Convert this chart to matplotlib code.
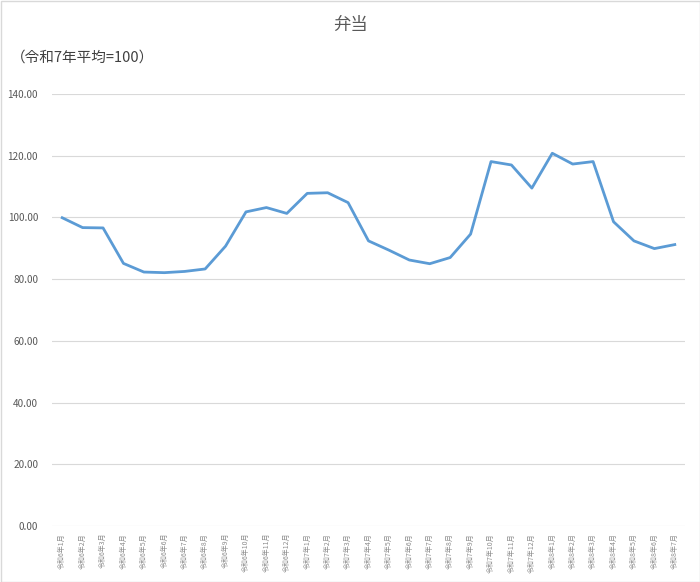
import matplotlib
matplotlib.use("Agg")
import matplotlib.pyplot as plt
from matplotlib.patches import Rectangle

plt.rcParams['font.family'] = ['Noto Sans CJK JP', 'DejaVu Sans']

labels = ([f"令和6年{m}月" for m in range(1, 13)]
          + [f"令和7年{m}月" for m in range(1, 13)]
          + [f"令和8年{m}月" for m in range(1, 8)])
values = [99.9, 96.7, 96.6, 85.1, 82.3, 82.1, 82.5, 83.3, 90.7, 101.8, 103.2, 101.3,
          107.8, 108.0, 104.8, 92.4, 89.4, 86.2, 85.0, 87.0, 94.6, 118.1, 117.0, 109.5,
          120.8, 117.3, 118.1, 98.6, 92.4, 89.9, 91.2]
yticks = [0, 20, 40, 60, 80, 100, 120, 140]
title = "弁当"
unit_note = "（令和7年平均=100）"

W, H = 700, 582
fig = plt.figure(figsize=(W / 100, H / 100), dpi=100)
ax = fig.add_axes([52 / W, (H - 526) / H, (685 - 52) / W, (526 - 94) / H])

x = list(range(len(values)))
ax.plot(x, values, color='#5B9BD5', linewidth=2.0, solid_joinstyle='round', zorder=3)

ax.set_xlim(-0.5, len(values) - 0.5)
ax.set_ylim(0, 140)
ax.set_yticks(yticks)
ax.set_yticklabels([f"{v:.2f}" for v in yticks], fontsize=7.2, color='#595959')
ax.set_xticks(x)
ax.set_xticklabels(labels, rotation=90, fontsize=5, color='#8C8C8C', va='top')
ax.tick_params(axis='both', length=0)
ax.tick_params(axis='y', pad=10)
ax.tick_params(axis='x', pad=5)
ax.grid(axis='y', color='#D9D9D9', linewidth=0.8)
ax.set_axisbelow(True)
for s in ax.spines.values():
    s.set_visible(False)

fig.text(350 / W, 1 - 25 / H, title, ha='center', va='center', fontsize=12.5, color='#595959')
fig.text(11 / W, 1 - 58 / H, unit_note, ha='left', va='center', fontsize=10.5, color='#404040')

fig.patches.append(Rectangle((0.5 / W, 0.5 / H), (W - 1) / W, (H - 1) / H,
                             transform=fig.transFigure, fill=False,
                             edgecolor='#D9D9D9', linewidth=1))

fig.savefig('out.png', dpi=100, facecolor='white')
